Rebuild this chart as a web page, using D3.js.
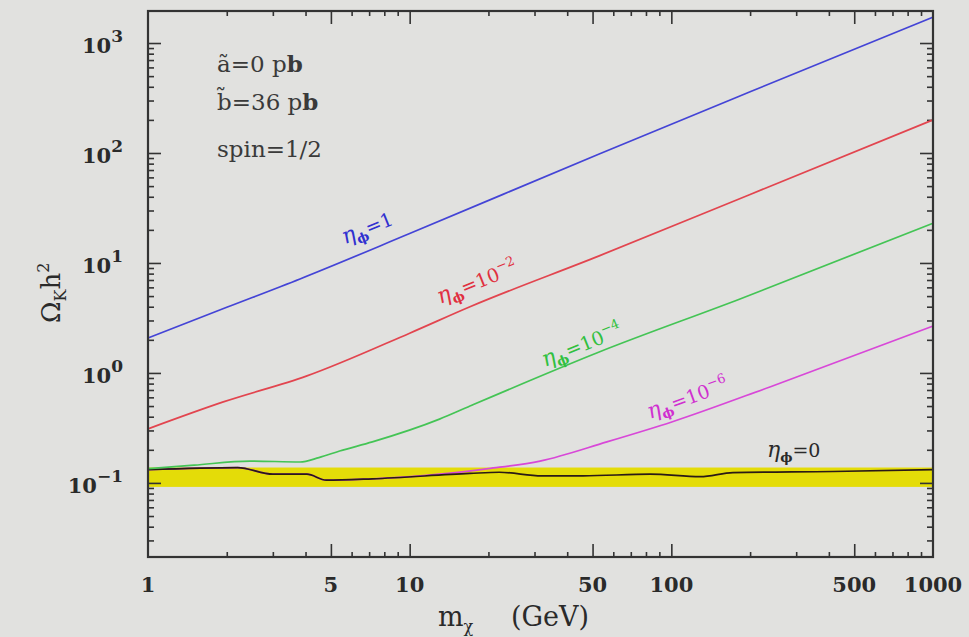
<!DOCTYPE html>
<html><head><meta charset="utf-8">
<script src="https://cdn.jsdelivr.net/npm/d3@7"></script>
<style>
body{margin:0;background:#e1e1df;}
svg{display:block;}
</style>
</head><body>
<svg id="c" width="969" height="637"></svg>
<script>
// ---- data ----
const massEta1   = [1, 2, 3.81, 10, 53, 200, 1000];
const omegaEta1  = [2.08, 3.95, 7.16, 18.5, 98, 360, 1720];

const massEta2   = [1, 1.94, 4.05, 10, 17, 53, 200, 1000];
const omegaEta2  = [0.31, 0.545, 0.94, 2.3, 4.0, 11.6, 42, 200];

const massEta4   = [1, 1.5, 2.45, 3.81, 4.5, 5.4, 7.2, 13, 17, 53, 183, 1000];
const omegaEta4  = [0.135, 0.145, 0.158, 0.155, 0.17, 0.195, 0.236, 0.38, 0.5, 1.55, 4.7, 23];

const massEta6   = [1, 2.2, 3, 4.05, 4.8, 7.2, 13, 20, 31.5, 56.7, 101, 238, 1000];
const omegaEta6  = [0.132, 0.138, 0.12, 0.12, 0.106, 0.109, 0.12, 0.135, 0.158, 0.236, 0.36, 0.746, 2.67];

const massEta0   = [1, 2.2, 3, 4.05, 4.8, 7.2, 17, 22, 32, 46, 83, 129, 172, 414, 1000];
const omegaEta0  = [0.132, 0.138, 0.12, 0.12, 0.106, 0.109, 0.122, 0.125, 0.116, 0.116, 0.12, 0.114, 0.124, 0.127, 0.132];

const bandRange  = [0.092, 0.138];
const xTickValues = [1, 5, 10, 50, 100, 500, 1000];
const xTickLabels = ["1", "5", "10", "50", "100", "500", "1000"];
const yTickExponents = [-1, 0, 1, 2, 3];
const seriesNames = ["1", "10^-2", "10^-4", "10^-6", "0"];

// ---- layout ----
const svg = d3.select("#c");
const x = d3.scaleLog().domain([1, 1000]).range([148, 933]);
const y = d3.scaleLog().domain([0.0212, 1955]).range([557, 11]);
const X0 = 148, X1 = 933, Y0 = 557, Y1 = 11;
const serif = "'DejaVu Serif', 'Liberation Serif', serif";

svg.append("rect").attr("width", 969).attr("height", 637).attr("fill", "#e1e1df");

// yellow band
svg.append("rect")
  .attr("x", X0).attr("width", X1 - X0)
  .attr("y", y(bandRange[1])).attr("height", y(bandRange[0]) - y(bandRange[1]))
  .attr("fill", "#e4dc08");

// ---- ticks ----
const xMinor = [], xMajor = [5, 10, 50, 100, 500];
[1, 10, 100].forEach(d => [2, 3, 4, 6, 7, 8, 9].forEach(k => xMinor.push(d * k)));
const yMinor = [], yMajor = yTickExponents.map(e => Math.pow(10, e));
[0.01, 0.1, 1, 10, 100, 1000].forEach(d => [2,3,4,5,6,7,8,9].forEach(k => {
  const v = d * k; if (v > 0.0212 && v < 1955) yMinor.push(v);
}));

function tickAxis(axisFn, scale, vals, size, tx, ty) {
  const g = svg.append("g").attr("transform", `translate(${tx},${ty})`)
    .call(axisFn(scale).tickValues(vals).tickSize(size).tickFormat(""));
  g.select(".domain").remove();
  g.selectAll("line").attr("stroke", "#333").attr("stroke-width", 1.6);
}
tickAxis(d3.axisBottom, x, xMinor, -5, 0, Y0);
tickAxis(d3.axisBottom, x, xMajor, -13, 0, Y0);
tickAxis(d3.axisTop, x, xMinor, -5, 0, Y1);
tickAxis(d3.axisTop, x, xMajor, -13, 0, Y1);
tickAxis(d3.axisLeft, y, yMinor, -6, X0, 0);
tickAxis(d3.axisLeft, y, yMajor, -13, X0, 0);
tickAxis(d3.axisRight, y, yMinor, -6, X1, 0);
tickAxis(d3.axisRight, y, yMajor, -13, X1, 0);

// ---- curves ----
const line = d3.line().x(d => x(d[0])).y(d => y(d[1])).curve(d3.curveMonotoneX);
const series = [
  {m: massEta6, o: omegaEta6, c: "#d848d8"},
  {m: massEta0, o: omegaEta0, c: "#2a1a16"},
  {m: massEta4, o: omegaEta4, c: "#44c455"},
  {m: massEta2, o: omegaEta2, c: "#e2454f"},
  {m: massEta1, o: omegaEta1, c: "#4444d6"}
];
series.forEach(s => {
  svg.append("path").datum(d3.zip(s.m, s.o))
    .attr("d", line).attr("fill", "none")
    .attr("stroke", s.c).attr("stroke-width", 1.7);
});

// frame
svg.append("rect").attr("x", X0).attr("y", Y1).attr("width", X1 - X0).attr("height", Y0 - Y1)
  .attr("fill", "none").attr("stroke", "#333").attr("stroke-width", 2.2);

// ---- tick labels ----
xTickValues.forEach((v, i) => {
  svg.append("text").attr("x", x(v)).attr("y", 592).attr("text-anchor", "middle")
    .attr("font-family", serif).attr("font-weight", "bold").attr("font-size", 21)
    .attr("fill", "#2a2a2a").text(xTickLabels[i]);
});
yTickExponents.forEach(e => {
  const t = svg.append("text").attr("x", 123).attr("y", y(Math.pow(10, e)) + 10)
    .attr("text-anchor", "end").attr("font-family", serif).attr("font-weight", "bold")
    .attr("font-size", 21).attr("fill", "#2a2a2a");
  t.append("tspan").text("10");
  t.append("tspan").attr("dy", -11).attr("font-size", 17).text(e < 0 ? "\u2212" + (-e) : String(e));
});

// ---- axis titles ----
const xt = svg.append("text").attr("x", 438).attr("y", 626).attr("font-family", serif)
  .attr("font-size", 27).attr("fill", "#2a2a2a");
xt.append("tspan").text("m");
xt.append("tspan").attr("dy", 6).attr("font-size", 16).text("\u03c7");
svg.append("text").attr("x", 511).attr("y", 626).attr("font-family", serif)
  .attr("font-size", 27).attr("fill", "#2a2a2a").text("(GeV)");

const yt = svg.append("text").attr("transform", "translate(60,323) rotate(-90)")
  .attr("font-family", serif).attr("font-size", 26).attr("fill", "#2a2a2a");
yt.append("tspan").text("\u03a9");
yt.append("tspan").attr("dy", 6).attr("font-size", 16).text("K");
yt.append("tspan").attr("dy", -6).text("h");
yt.append("tspan").attr("dy", -11).attr("font-size", 16).text("2");

// ---- parameter box ----
const pars = [["a\u0303=0 p", 72], ["b\u0303=36 p", 110]];
pars.forEach(p => {
  const t = svg.append("text").attr("x", 217).attr("y", p[1]).attr("font-family", serif)
    .attr("font-size", 23).attr("fill", "#3a3a3a");
  t.append("tspan").text(p[0]);
  t.append("tspan").attr("font-weight", "bold").text("b");
});
svg.append("text").attr("x", 217).attr("y", 157).attr("font-family", serif)
  .attr("font-size", 23).attr("fill", "#3a3a3a").text("spin=1/2");

// ---- curve labels ----
const labels = [
  {name: seriesNames[0], mx: 5.66, om: 14.8, rot: -22, c: "#3030d0"},
  {name: seriesNames[1], mx: 13.1, om: 4.24, rot: -22, c: "#e0303f"},
  {name: seriesNames[2], mx: 32.9, om: 1.13, rot: -22, c: "#30c040"},
  {name: seriesNames[3], mx: 82.8, om: 0.382, rot: -20, c: "#d030d0"},
  {name: seriesNames[4], mx: 232, om: 0.172, rot: 0, c: "#2a2a2a"}
];
labels.forEach(l => {
  const t = svg.append("text")
    .attr("transform", `translate(${x(l.mx)},${y(l.om)}) rotate(${l.rot})`)
    .attr("font-family", serif).attr("font-size", 19).attr("fill", l.c);
  t.append("tspan").attr("font-size", 22).attr("font-style", "italic").text("\u03b7");
  t.append("tspan").attr("dy", 5).attr("font-size", 13).attr("font-weight", "bold").text("\u03d5");
  if (l.name.indexOf("^") >= 0) {
    const parts = l.name.split("^");
    t.append("tspan").attr("dy", -5).text("=" + parts[0]);
    t.append("tspan").attr("dy", -9).attr("font-size", 13).text(parts[1].replace("-", "\u2212"));
  } else {
    t.append("tspan").attr("dy", -5).text("=" + l.name);
  }
});
</script>
</body></html>
